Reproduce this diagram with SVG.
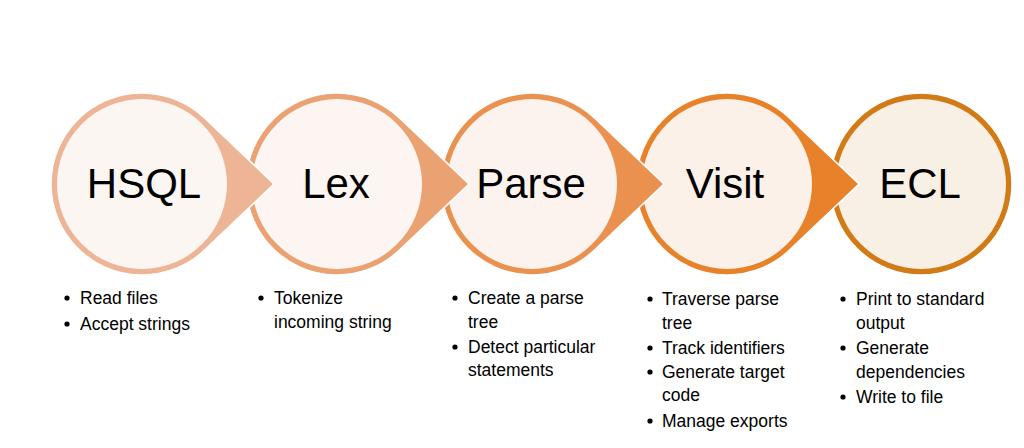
<svg xmlns="http://www.w3.org/2000/svg" width="1024" height="448" viewBox="0 0 1024 448">
<style>
.shape{stroke:#ffffff;stroke-width:1.5}
.inner{stroke:none}
.title{font-family:"Liberation Sans",Arial,sans-serif;font-size:42px;fill:#000;text-anchor:middle}
.item{font-family:"Liberation Sans",Arial,sans-serif;font-size:17.5px;fill:#000}
.dot{fill:#000}
</style>
<rect width="1024" height="448" fill="#ffffff"/>
<g id="node-ecl">
<circle class="shape" cx="921" cy="184" r="91" fill="#D27A16"/>
<circle class="inner" cx="921" cy="184" r="85" fill="#F9F0E5"/>
<text class="title" x="920" y="198">ECL</text>
</g>
<g id="node-visit">
<path class="shape" fill="#E8822A" d="M789.74,118.09 L859,184 L789.74,249.91 A91 91 0 1 1 789.74,118.09 Z"/>
<circle class="inner" cx="727" cy="184" r="85" fill="#FBF1E8"/>
<text class="title" x="725" y="198">Visit</text>
</g>
<g id="node-parse">
<path class="shape" fill="#EA9150" d="M594.74,118.09 L664,184 L594.74,249.91 A91 91 0 1 1 594.74,118.09 Z"/>
<circle class="inner" cx="532" cy="184" r="85" fill="#FCF3EE"/>
<text class="title" x="531" y="198">Parse</text>
</g>
<g id="node-lex">
<path class="shape" fill="#EBA272" d="M399.74,118.09 L469,184 L399.74,249.91 A91 91 0 1 1 399.74,118.09 Z"/>
<circle class="inner" cx="337" cy="184" r="85" fill="#FCF5F1"/>
<text class="title" x="336" y="198">Lex</text>
</g>
<g id="node-hsql">
<path class="shape" fill="#EDB496" d="M204.74,118.09 L274,184 L204.74,249.91 A91 91 0 1 1 204.74,118.09 Z"/>
<circle class="inner" cx="142" cy="184" r="85" fill="#FCF6F3"/>
<text class="title" x="144" y="198">HSQL</text>
</g>
<g id="list-hsql">
<circle class="dot" cx="67" cy="298" r="2.6"/>
<text class="item" x="80" y="304">Read files</text>
<circle class="dot" cx="67" cy="324" r="2.6"/>
<text class="item" x="80" y="330">Accept strings</text>
</g>
<g id="list-lex">
<circle class="dot" cx="261" cy="298" r="2.6"/>
<text class="item" x="274" y="304">Tokenize</text>
<text class="item" x="274" y="328">incoming string</text>
</g>
<g id="list-parse">
<circle class="dot" cx="455" cy="298" r="2.6"/>
<text class="item" x="468" y="304">Create a parse</text>
<text class="item" x="468" y="327.5">tree</text>
<circle class="dot" cx="455" cy="347" r="2.6"/>
<text class="item" x="468" y="353">Detect particular</text>
<text class="item" x="468" y="376">statements</text>
</g>
<g id="list-visit">
<circle class="dot" cx="650" cy="299" r="2.6"/>
<text class="item" x="662" y="305">Traverse parse</text>
<text class="item" x="662" y="328.5">tree</text>
<circle class="dot" cx="650" cy="348" r="2.6"/>
<text class="item" x="662" y="354">Track identifiers</text>
<circle class="dot" cx="650" cy="372" r="2.6"/>
<text class="item" x="662" y="378">Generate target</text>
<text class="item" x="662" y="401">code</text>
<circle class="dot" cx="650" cy="421" r="2.6"/>
<text class="item" x="662" y="427">Manage exports</text>
</g>
<g id="list-ecl">
<circle class="dot" cx="843" cy="299" r="2.6"/>
<text class="item" x="856" y="305">Print to standard</text>
<text class="item" x="856" y="328.5">output</text>
<circle class="dot" cx="843" cy="348" r="2.6"/>
<text class="item" x="856" y="354">Generate</text>
<text class="item" x="856" y="378">dependencies</text>
<circle class="dot" cx="843" cy="397" r="2.6"/>
<text class="item" x="856" y="403">Write to file</text>
</g>
</svg>
